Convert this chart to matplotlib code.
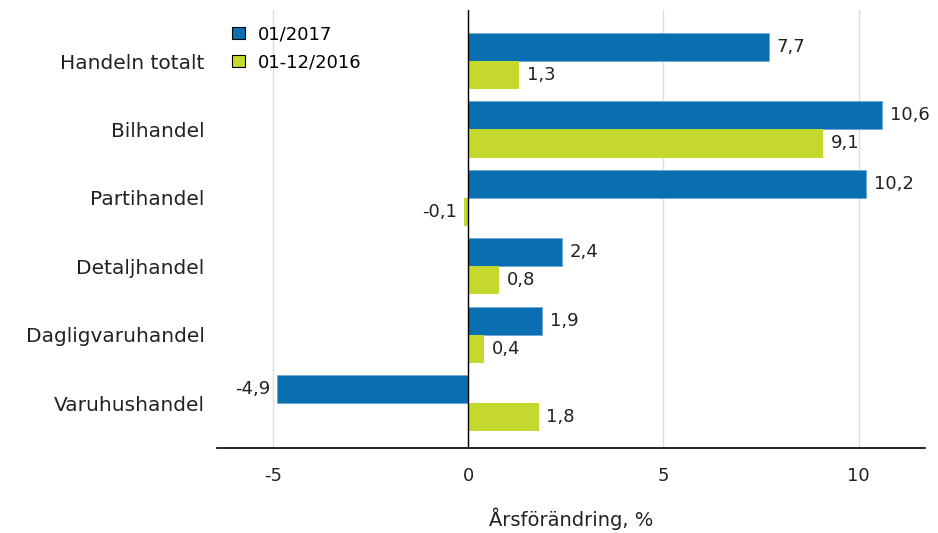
import numpy as np
import matplotlib.pyplot as plt

plt.rcParams['font.family'] = ['DejaVu Sans']

categories = ['Handeln totalt', 'Bilhandel', 'Partihandel', 'Detaljhandel',
              'Dagligvaruhandel', 'Varuhushandel']
series_names = ['01/2017', '01-12/2016']
jan_2017 = [7.7, 10.6, 10.2, 2.4, 1.9, -4.9]
year_2016 = [1.3, 9.1, -0.1, 0.8, 0.4, 1.8]
xticks = [-5, 0, 5, 10]

blue = '#0a6fb0'
green = '#c4d82d'

fig = plt.figure(figsize=(9.38, 5.33), dpi=100)
ax = fig.add_axes([0.2313, 0.1595, 0.7547, 0.8215])

y = np.arange(len(categories))
h = 0.41
b1 = ax.barh(y - h / 2, jan_2017, height=h, color=blue, edgecolor='#6fa8d6',
             linewidth=0.6, label=series_names[0], zorder=3)
b2 = ax.barh(y + h / 2, year_2016, height=h, color=green, label=series_names[1], zorder=3)

for bars, vals in [(b1, jan_2017), (b2, year_2016)]:
    for bar, v in zip(bars, vals):
        yc = bar.get_y() + bar.get_height() / 2
        txt = f'{v:.1f}'.replace('.', ',')
        if v >= 0:
            ax.annotate(txt, (v, yc), xytext=(5.5, 0), textcoords='offset points',
                        ha='left', va='center', fontsize=13, color='#222222')
        else:
            ax.annotate(txt, (v, yc), xytext=(-5, 0), textcoords='offset points',
                        ha='right', va='center', fontsize=13, color='#222222')

ax.set_xlim(-6.44, 11.7)
ax.set_ylim(len(categories) - 1 + 0.657, -0.745)
ax.set_yticks(y)
ax.set_yticklabels(categories, fontsize=14.5)
ax.set_xticks(xticks)
ax.set_xticklabels([str(t) for t in xticks], fontsize=13)
ax.tick_params(axis='y', length=0, pad=9, colors='#222222')
ax.tick_params(axis='x', length=0, pad=14, colors='#222222')

ax.grid(axis='x', color='#dddddd', linewidth=1, zorder=0)
ax.axvline(0, color='black', linewidth=1, zorder=4)
for s in ['top', 'right', 'left']:
    ax.spines[s].set_visible(False)
ax.spines['bottom'].set_linewidth(1.2)

ax.set_xlabel('Årsförändring, %', fontsize=14, labelpad=16, color='#222222')

leg = ax.legend(loc='upper left', bbox_to_anchor=(0.0, 1.0), frameon=False,
                fontsize=13, handlelength=0.7, handleheight=0.7,
                handletextpad=0.7, labelspacing=0.55, borderaxespad=0.45)
for p in leg.get_patches():
    p.set_edgecolor('black')
    p.set_linewidth(0.8)

fig.savefig('out.png', dpi=100)
